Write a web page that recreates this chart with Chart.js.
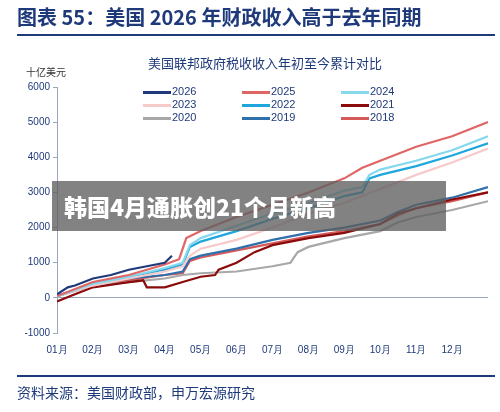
<!DOCTYPE html>
<html lang="zh">
<head>
<meta charset="UTF-8" />
<script src="https://cdn.jsdelivr.net/npm/chart.js"></script>
<style>
  body { margin:0; background:#fff; font-family:"Noto Sans CJK SC", sans-serif; }
  #wrap { position:relative; width:500px; height:412px; overflow:hidden; }
  #title { position:absolute; left:17px; top:2px; font-size:20px; font-weight:bold; color:#1f3a7a; }
  .rule { position:absolute; left:17px; width:478px; height:2px; background:#1f3a7a; }
  #sub { position:absolute; left:0; width:500px; top:53px; text-align:center; padding-left:30px; box-sizing:border-box; font-size:13px; color:#1f3a7a; }
  #unit { position:absolute; left:26px; top:64px; font-size:10px; color:#333; }
  #legend { position:absolute; left:143px; top:85px; width:300px; display:grid; grid-template-columns:repeat(3,99px); font-size:11px; line-height:13px; color:#1f3a7a; font-family:"Liberation Sans", sans-serif; }
  #legend span.sw { display:inline-block; width:28px; height:3px; vertical-align:middle; margin-right:1px; }
  #banner { position:absolute; left:52px; top:181px; width:394px; height:50px; background:rgba(95,95,95,0.78); color:#fff; font-size:23px; font-weight:900; line-height:50px; padding-left:12px; box-sizing:border-box; }
  #src { position:absolute; left:17px; top:382px; font-size:14px; color:#1f3a7a; }
  canvas { position:absolute; left:0; top:0; }
</style>
</head>
<body>
<div id="wrap">
  <canvas id="c" width="500" height="412"></canvas>
  <div id="title">图表 55：美国 2026 年财政收入高于去年同期</div>
  <div class="rule" style="top:34px"></div>
  <div id="sub">美国联邦政府税收收入年初至今累计对比</div>
  <div id="unit">十亿美元</div>
  <div id="legend"></div>
  <div class="rule" style="top:375px;height:1.5px"></div>
  <div id="src">资料来源：美国财政部，申万宏源研究</div>
  <div id="banner">韩国4月通胀创21个月新高</div>
</div>
<script>
const monthLabels = ['01月','02月','03月','04月','05月','06月','07月','08月','09月','10月','11月','12月'];
const seriesNames = ['2026','2025','2024','2023','2022','2021','2020','2019','2018'];
const seriesColors = ['#1f3a7a','#e06666','#86d8ec','#f6caca','#1ea7dc','#8b0a0a','#a8a8a8','#2f6fab','#d45a5a'];

const m2026 = [0,0.3,0.5,1,1.5,2,2.5,3,3.2];
const v2026 = [100,300,350,550,650,800,900,1000,1200];
const m2025 = [0,1,2,3,3.4,3.6,4,5,6,7,8,8.5,9,10,11,12];
const v2025 = [50,450,650,950,1100,1700,1900,2300,2650,3000,3400,3700,3900,4300,4600,5000];
const m2024 = [0,1,2,3,3.5,3.7,4,5,6,7,8,8.5,8.7,9,10,11,12];
const v2024 = [50,400,600,850,1000,1500,1700,2050,2400,2700,3050,3150,3500,3650,3900,4200,4600];
const m2023 = [0,1,2,3,3.5,3.7,4,5,6,7,8,9,10,11,12];
const v2023 = [50,350,550,750,900,1200,1400,1650,2000,2400,2700,3100,3500,3850,4250];
const m2022 = [0,1,2,3,3.5,3.7,4,5,6,7,8,8.5,8.7,9,10,11,12];
const v2022 = [50,400,600,800,950,1450,1600,1900,2250,2550,2900,3000,3400,3500,3750,4050,4400];
const m2021 = [0,0.5,1,2,2.4,2.5,3,3.5,4,4.4,4.5,5,5.5,6,7,8,9,9.5,10,11,12];
const v2021 = [-100,100,300,450,500,300,300,450,600,650,800,1000,1300,1500,1700,1850,2100,2400,2550,2800,3000];
const m2020 = [0,1,2,3,3.5,4,5,6,6.5,6.7,7,8,9,9.5,10,11,12];
const v2020 = [50,350,450,550,650,700,750,900,1000,1300,1450,1700,1900,2150,2300,2500,2750];
const m2019 = [0,1,2,3,3.5,3.7,4,5,6,7,8,9,9.5,10,11,12];
const v2019 = [50,400,550,650,750,1100,1200,1400,1650,1850,2000,2200,2450,2650,2850,3150];
const m2018 = [0,1,2,3,3.5,3.7,4,5,6,7,8,9,9.5,10,11,12];
const v2018 = [50,350,500,650,700,1050,1150,1350,1550,1750,1900,2100,2350,2550,2750,3000];

const months = [m2026,m2025,m2024,m2023,m2022,m2021,m2020,m2019,m2018];
const values = [v2026,v2025,v2024,v2023,v2022,v2021,v2020,v2019,v2018];

const lg = document.getElementById('legend');
seriesNames.forEach((n, i) => {
  lg.innerHTML += '<div><span class="sw" style="background:' + seriesColors[i] + '"></span>' + n + '</div>';
});

const datasets = seriesNames.map((n, i) => ({
  label: n,
  data: months[i].map((m, k) => ({ x: m, y: values[i][k] })),
  borderColor: seriesColors[i],
  borderWidth: 2.2,
  pointRadius: 0,
  showLine: true,
  tension: 0,
  order: i
}));

new Chart(document.getElementById('c'), {
  type: 'scatter',
  data: { datasets },
  options: {
    responsive: false,
    animation: false,
    layout: { padding: { top: 87, bottom: 46, left: 0, right: 12 } },
    plugins: { legend: { display: false }, tooltip: { enabled: false } },
    scales: {
      x: {
        type: 'linear', min: 0, max: 12,
        grid: { display: false },
        border: { display: false },
        afterFit: s => { s.height = 33; },
        ticks: {
          stepSize: 1, color: '#1f3a7a', font: { size: 10, family: 'Liberation Sans' },
          autoSkip: false, maxRotation: 0,
          callback: v => monthLabels[v] || ''
        }
      },
      y: {
        min: -1000, max: 6000,
        afterFit: s => { s.width = 57; },
        border: { display: true, color: '#9aa6c0' },
        grid: {
          drawOnChartArea: true,
          color: ctx => ctx.tick && ctx.tick.value === 0 ? '#9aa6c0' : 'rgba(0,0,0,0)',
          tickColor: '#9aa6c0', tickLength: 4
        },
        ticks: { stepSize: 1000, color: '#1f3a7a', font: { size: 10, family: 'Liberation Sans' }, callback: v => String(v) }
      }
    }
  }
});
</script>
</body>
</html>
